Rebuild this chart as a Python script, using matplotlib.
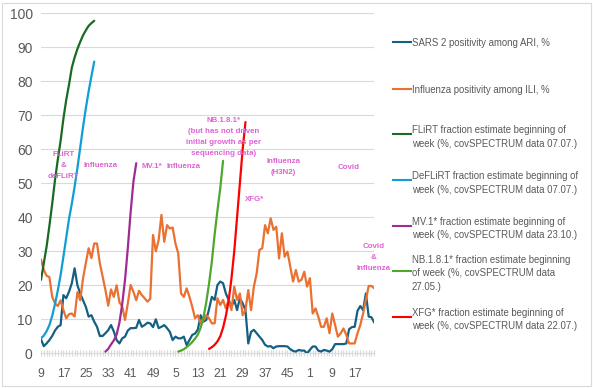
import numpy as np
import matplotlib
matplotlib.use('Agg')
import matplotlib.pyplot as plt
from matplotlib.lines import Line2D
from matplotlib.patches import Rectangle
import matplotlib.font_manager as fm

# ---------------- data ----------------
x_tick_labels = ["9", "17", "25", "33", "41", "49", "5", "13", "21", "29", "37", "45", "1", "9", "17"]

sars = [4.1, 2.1, 2.9, 3.9, 5.1, 6.7, 7.8, 8.3, 17.1, 16.2,
        18.1, 20.6, 25.0, 20.0, 17.6, 15.6, 13.7, 10.8, 11.2, 9.3,
        7.8, 5.1, 5.1, 5.9, 6.8, 8.3, 6.4, 3.9, 2.9, 4.4,
        4.9, 6.7, 7.4, 7.4, 7.5, 9.8, 7.8, 8.3, 9.0, 8.8,
        7.7, 10.0, 7.4, 7.8, 8.3, 7.4, 6.3, 3.9, 4.9, 4.4,
        4.4, 4.9, 2.4, 3.9, 5.4, 5.8, 7.0, 11.2, 9.3, 9.8,
        13.0, 16.6, 15.7, 20.1, 21.1, 20.6, 17.6, 15.7, 13.7, 15.7,
        12.7, 16.2, 14.7, 12.7, 2.9, 6.3, 6.9, 5.9, 4.9, 3.9,
        2.5, 2.0, 2.1, 1.5, 2.0, 2.1, 2.1, 2.1, 2.0, 1.2,
        0.7, 0.5, 1.0, 0.8, 0.8, 0.0, 1.0, 2.0, 2.0, 0.8,
        0.5, 1.0, 0.8, 0.5, 1.2, 2.7, 2.7, 2.7, 2.7, 2.9,
        7.1, 7.7, 7.8, 12.5, 13.9, 12.7, 17.6, 10.8, 10.6, 9.0]

influenza = [27.6, 24.5, 22.8, 22.4, 16.6, 14.7, 13.9, 15.6, 12.7, 10.3,
             11.5, 11.7, 10.8, 18.0, 15.6, 22.0, 26.5, 30.9, 28.0, 32.3,
             32.3, 26.5, 22.6, 18.6, 14.0, 18.8, 16.6, 20.0, 15.0, 13.8,
             9.8, 14.7, 20.1, 18.1, 15.6, 18.4, 17.1, 16.2, 15.2, 16.0,
             34.8, 30.0, 33.3, 40.7, 32.8, 37.7, 36.7, 37.0, 32.3, 29.4,
             17.6, 16.6, 19.1, 16.6, 13.7, 10.3, 11.2, 8.8, 9.8, 11.2,
             10.3, 8.8, 8.8, 16.2, 14.2, 15.7, 13.2, 15.7, 12.7, 19.6,
             15.7, 17.6, 11.2, 12.7, 18.6, 12.7, 19.6, 23.5, 30.4, 30.9,
             37.7, 35.3, 39.7, 36.3, 37.2, 27.9, 35.3, 28.4, 29.9, 25.5,
             21.1, 24.5, 21.1, 21.6, 24.0, 19.6, 22.1, 11.7, 13.2, 10.8,
             7.8, 7.8, 10.3, 5.9, 11.7, 8.3, 4.9, 5.9, 7.3, 5.4,
             2.9, 2.9, 2.9, 5.9, 8.3, 11.7, 15.7, 19.8, 19.8, 19.1]

flirt_start = 0
flirt = [21.6, 26.5, 31.4, 37.5, 44.0, 51.0, 57.0, 62.5, 69.0, 74.5,
         79.0, 84.0, 87.0, 89.5, 91.6, 93.5, 95.0, 96.3, 97.1, 97.8]
deflirt_start = 0
deflirt = [4.4, 5.2, 6.5, 8.3, 11.0, 14.5, 18.5, 23.0, 28.4, 34.0,
           39.5, 44.0, 49.0, 54.5, 60.5, 66.5, 72.0, 77.0, 81.5, 85.8]
mv1_start = 23
mv1 = [0.5, 1.3, 2.6, 3.8, 5.5, 9.0, 14.5, 21.6, 31.0, 41.5, 50.5, 55.9]
nb181_start = 49
nb181 = [0.5, 0.8, 1.2, 1.8, 2.5, 3.3, 4.3, 5.5, 7.5, 10.5, 15.0, 20.5,
         27.0, 35.0, 42.0, 48.5, 56.6]
xfg_start = 60
xfg = [1.3, 1.8, 2.5, 3.5, 5.0, 7.5, 11.0, 15.5, 22.0, 30.0, 40.0, 50.0, 60.0, 68.0]

series_labels = [
    "SARS 2 positivity among ARI, %",
    "Influenza positivity among ILI, %",
    "FLiRT fraction estimate beginning of\nweek (%, covSPECTRUM data 07.07.)",
    "DeFLiRT fraction estimate beginning of\nweek (%, covSPECTRUM data 07.07.)",
    "MV.1* fraction estimate beginning of\nweek (%, covSPECTRUM data 23.10.)",
    "NB.1.8.1* fraction estimate beginning\nof week (%, covSPECTRUM data\n27.05.)",
    "XFG* fraction estimate beginning of\nweek (%, covSPECTRUM data 22.07.)",
]

annotations = [
    ("FLiRT\n&\ndeFLiRT", 8.0, 55.2),
    ("Influenza", 21.1, 55.2),
    ("MV.1*", 39.6, 54.9),
    ("Influenza", 50.8, 54.9),
    ("NB.1.8.1*\n(but has not driven\ninitial growth as per\nsequencing data)", 65.1, 63.7),
    ("Influenza\n(H3N2)", 86.5, 54.8),
    ("Covid", 109.8, 54.7),
    ("XFG*", 76.1, 45.1),
    ("Covid\n&\nInfluenza", 118.6, 28.2),
]

# ---------------- style ----------------
names = {f.name for f in fm.fontManager.ttflist}
BASE = 'Liberation Sans' if 'Liberation Sans' in names else 'DejaVu Sans'
plt.rcParams['font.family'] = [BASE, 'DejaVu Sans']

W, H = 593, 388
N = len(sars)
colors = ['#156082', '#E97132', '#196B24', '#0F9ED5', '#A02B93', '#4EA72E', '#FF0000']
GRAY_TXT = '#595959'
GRID = '#D9D9D9'
PINK = '#DF63D3'


def place(start, vals):
    arr = np.full(N, np.nan)
    arr[start:start + len(vals)] = vals
    return arr


all_series = [np.array(sars, float), np.array(influenza, float),
              place(flirt_start, flirt), place(deflirt_start, deflirt),
              place(mv1_start, mv1), place(nb181_start, nb181), place(xfg_start, xfg)]

fig = plt.figure(figsize=(W / 100, H / 100), dpi=100)
fig.patch.set_facecolor('white')
ax = fig.add_axes([41 / W, 1 - 353.3 / H, (374.3 - 41) / W, (353.3 - 13.3) / H])

x = np.arange(N)
for s, c in zip(all_series, colors):
    ax.plot(x, s, color=c, lw=1.6, solid_joinstyle='round', solid_capstyle='round', zorder=3)

ax.set_xlim(0, N - 1)
ax.set_ylim(0, 100)
ax.set_yticks(range(0, 101, 10))
ax.yaxis.grid(True, color=GRID, lw=0.8)
ax.set_axisbelow(True)
for side in ['left', 'right', 'top']:
    ax.spines[side].set_visible(False)
ax.spines['bottom'].set_color(GRID)
ax.spines['bottom'].set_linewidth(0.8)

ax.set_xticks(range(0, N, 8))
ax.set_xticklabels(x_tick_labels)
ax.set_xticks(range(N), minor=True)
ax.tick_params(axis='x', which='both', direction='inout', length=5, color=GRID, width=0.8)
ax.tick_params(axis='x', which='major', labelsize=8.7, labelcolor=GRAY_TXT, pad=8)
ax.tick_params(axis='y', length=0, labelsize=10, labelcolor=GRAY_TXT, pad=6)

for txt, xi, yv in annotations:
    ax.text(xi, yv, txt, ha='center', va='center', fontsize=5.7, fontweight='bold',
            color=PINK, linespacing=1.8, clip_on=False, zorder=4)

# legend (manual, Excel-like layout)
legend_y = [42.3, 88.7, 134.0, 180.0, 225.7, 270.7, 316.7]
for lab, c, ypx in zip(series_labels, colors, legend_y):
    yf = 1 - ypx / H
    fig.add_artist(Line2D([393 / W, 411 / W], [yf, yf], color=c, lw=1.5))
    fig.text(412 / W, yf, lab, ha='left', va='center_baseline', fontsize=6.9,
             color=GRAY_TXT, linespacing=1.45)

# chart border
fig.add_artist(Rectangle((1.5 / W, 2.5 / H), (590.5 - 1.5) / W, (385.5 - 2.5) / H,
                         transform=fig.transFigure, fill=False, edgecolor=GRID, lw=0.8))

fig.savefig('out.png', dpi=100, facecolor='white')
